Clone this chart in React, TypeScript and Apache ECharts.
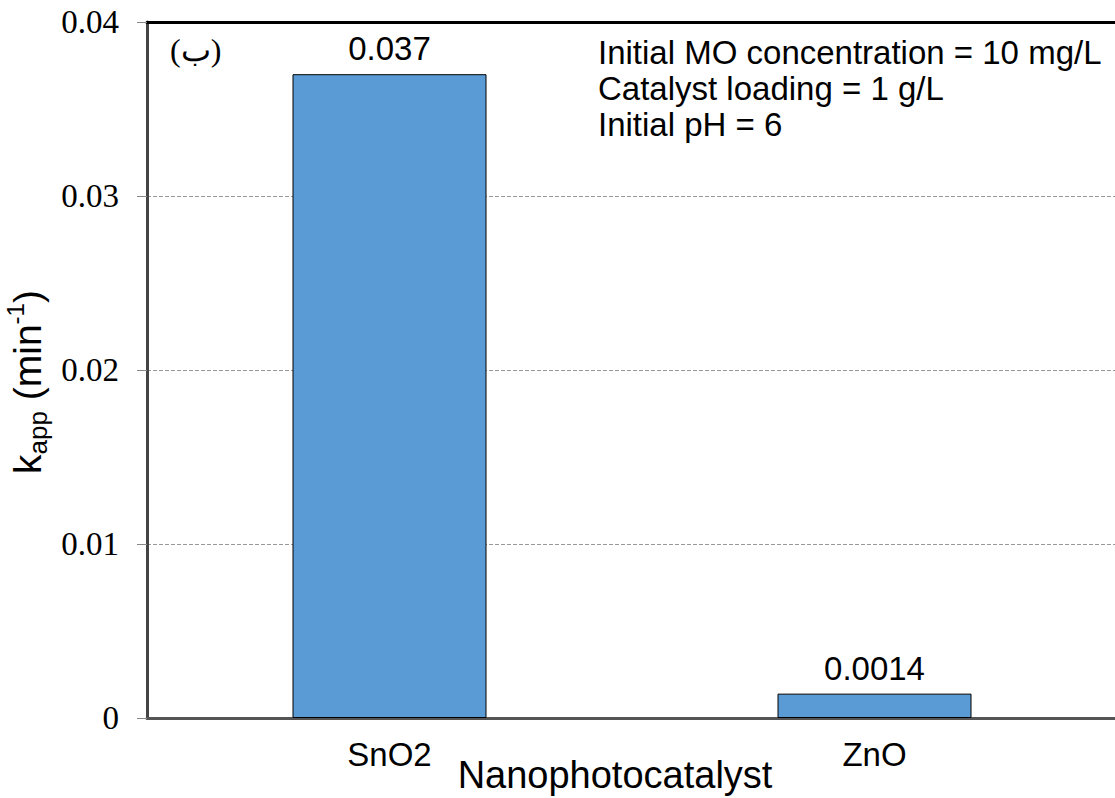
import React, { useEffect, useRef } from "react";
import * as echarts from "echarts";

const categories = ["SnO2", "ZnO"];
const kValues = [0.037, 0.0014];
const valueLabels = ["0.037", "0.0014"];
const yTicks = [0, 0.01, 0.02, 0.03, 0.04];
const notes = ["Initial MO concentration = 10 mg/L", "Catalyst loading = 1 g/L", "Initial pH = 6"];
const panelTag = "(ب)";

export default function App() {
  const ref = useRef<HTMLDivElement>(null);
  useEffect(() => {
    const chart = echarts.init(ref.current!, null, { renderer: "svg" });
    chart.setOption({
      animation: false,
      backgroundColor: "#fff",
      grid: { left: 147, right: -2, top: 22, bottom: 80, containLabel: false, outerBoundsMode: "none" },
      xAxis: [
        {
          type: "category",
          data: categories,
          position: "bottom",
          axisLine: { lineStyle: { color: "#555", width: 3 } },
          axisTick: { show: false },
          axisLabel: { fontFamily: "Liberation Sans, Arial", fontSize: 33, color: "#000", margin: 20 },
          name: "Nanophotocatalyst",
          nameLocation: "middle",
          nameGap: 38,
          nameMoveOverlap: false,
          nameTextStyle: { fontFamily: "Liberation Sans, Arial", fontSize: 38, color: "#000", padding: [0, 34, 0, 0] },
        },
        {
          type: "category",
          data: categories,
          position: "top",
          axisLine: { lineStyle: { color: "#000", width: 3 } },
          axisTick: { show: false },
          axisLabel: { show: false },
        },
      ],
      yAxis: {
        type: "value",
        min: yTicks[0],
        max: yTicks[yTicks.length - 1],
        interval: 0.01,
        axisLine: { show: true, lineStyle: { color: "#444", width: 3 } },
        axisTick: { show: true, length: 10, lineStyle: { color: "#888", width: 1 } },
        axisLabel: {
          fontFamily: "Liberation Serif, Times New Roman",
          fontSize: 33,
          color: "#000",
          margin: 28,
          formatter: (v: number) => (v === 0 ? "0" : v.toFixed(2)),
        },
        splitLine: { show: true, lineStyle: { color: "#999", type: "dashed", width: 1 } },
        name: "{a|k}{b|app}{a| (min}{c|-1}{a|)}",
        nameLocation: "middle",
        nameGap: 96,
        nameRotate: 90,
        nameMoveOverlap: false,
        nameTextStyle: {
          color: "#000",
          padding: [0, 24, 0, 0],
          rich: {
            a: { fontFamily: "Liberation Sans, Arial", fontSize: 39, color: "#000", lineHeight: 48, verticalAlign: "middle" },
            b: { fontFamily: "Liberation Sans, Arial", fontSize: 26, color: "#000", lineHeight: 48, verticalAlign: "bottom" },
            c: { fontFamily: "Liberation Sans, Arial", fontSize: 24, color: "#000", lineHeight: 48, verticalAlign: "top" },
          },
        },
      },
      series: [
        {
          type: "bar",
          data: kValues,
          barWidth: "40%",
          itemStyle: { color: "#5B9BD5", borderColor: "#000", borderWidth: 1 },
          label: {
            show: true,
            position: "top",
            distance: 9,
            fontFamily: "Liberation Sans, Arial",
            fontSize: 33,
            color: "#000",
            formatter: (p: any) => valueLabels[p.dataIndex],
          },
        },
      ],
      graphic: [
        {
          type: "text",
          left: 170,
          top: 34,
          style: { text: panelTag, fontFamily: "Liberation Serif, Times New Roman", fontSize: 32, fill: "#000" },
        },
        {
          type: "text",
          left: 598,
          top: 34,
          style: {
            text: notes.join("\n"),
            fontFamily: "Liberation Sans, Arial",
            fontSize: 33,
            lineHeight: 36,
            fill: "#000",
          },
        },
      ],
    });
    return () => chart.dispose();
  }, []);
  return <div ref={ref} style={{ width: 1115, height: 798, position: "absolute", left: 0, top: 0 }} />;
}
